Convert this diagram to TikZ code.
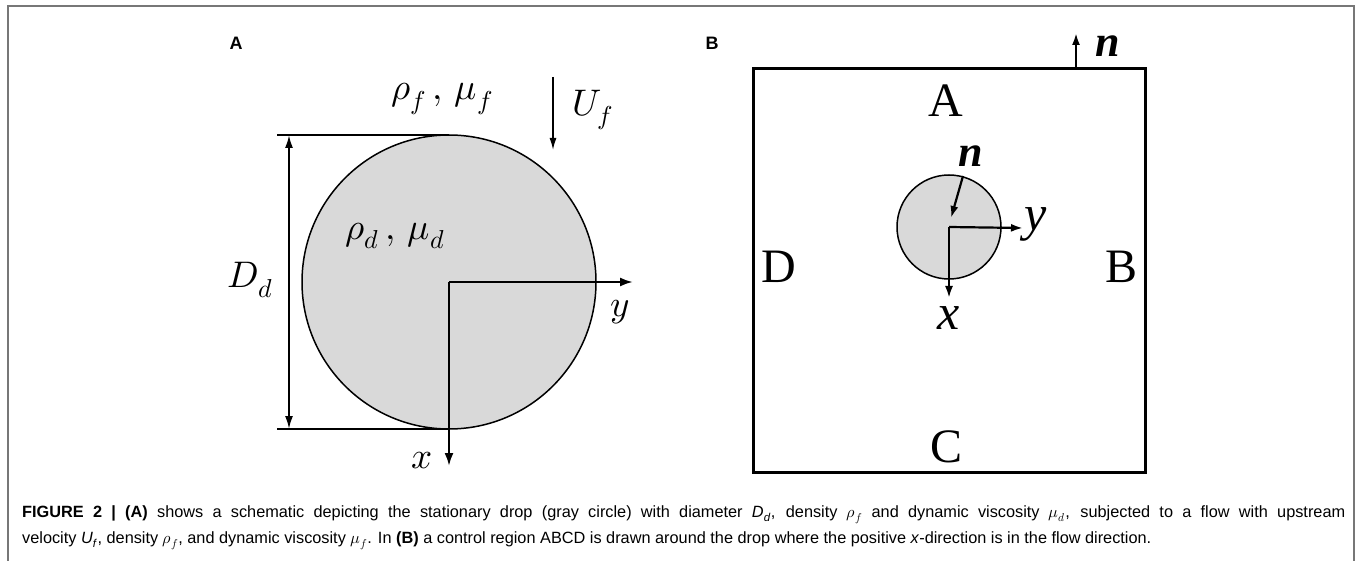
\documentclass[tikz,border=0pt]{standalone}
\usepackage{fontspec}
\usepackage{unicode-math}
\setmainfont{Liberation Sans}
\setmathfont{Latin Modern Math}
\newfontfamily\timesf{Liberation Serif}
\usetikzlibrary{arrows.meta}
\definecolor{framegray}{HTML}{777777}
\definecolor{dropgray}{HTML}{D9D9D9}
\tikzset{
  frameline/.style={draw=framegray, line width=2pt},
  thinline/.style={line width=1.3pt},
  dropshape/.style={circle, draw, fill=dropgray, line width=1.5pt, inner sep=0pt},
  axisarrow/.style={line width=2.2pt, -{Latex[length=13pt,width=9pt]}},
  dimarrow/.style={line width=2pt, {Latex[length=13pt,width=8pt]}-{Latex[length=13pt,width=8pt]}},
  flowarrow/.style={line width=1.5pt, -{Latex[length=12pt,width=7pt]}},
  smallarrow/.style={line width=2.2pt, -{Latex[length=12pt,width=8pt]}},
  boxline/.style={line width=3pt},
  panellabel/.style={font=\fontsize{18}{20}\selectfont\bfseries, inner sep=0pt},
  mathA/.style={font=\fontsize{37}{42}\selectfont, inner sep=0pt},
  letterB/.style={font=\fontsize{48}{52}\selectfont\timesf, inner sep=0pt},
  italB/.style={font=\fontsize{50}{52}\selectfont\timesf\itshape, inner sep=0pt},
  normB/.style={font=\fontsize{44}{48}\selectfont\timesf\bfseries\itshape, inner sep=0pt},
  captionline/.style={font=\fontsize{16.3}{20}\selectfont, inner sep=0pt, anchor=base west},
}
\begin{document}
\begin{tikzpicture}[x=1pt,y=-1pt]
\useasboundingbox (0,0) rectangle (1360,561);
\draw[frameline] (8,561) -- (8,6) -- (1354,6) -- (1354,561);

% ---------- Panel A ----------
\node[panellabel] (labA) at (236,43) {A};
\coordinate (tanTopL) at (277,135);
\coordinate (tanTopR) at (449,135);
\coordinate (tanBotL) at (277,429);
\coordinate (tanBotR) at (449,429);
\draw[thinline] (tanTopL) -- (tanTopR);
\draw[thinline] (tanBotL) -- (tanBotR);
\node[dropshape, minimum size=294pt] (dropA) at (449,282) {};
\coordinate (dimTop) at (289,135);
\coordinate (dimBot) at (289,429);
\draw[dimarrow] (dimTop) -- (dimBot);
\coordinate (yAend) at (633,282);
\coordinate (xAend) at (449,466);
\draw[axisarrow] (dropA.center) -- (yAend);
\draw[axisarrow] (dropA.center) -- (xAend);
\coordinate (flowTop) at (553,77);
\coordinate (flowBot) at (553,150);
\draw[flowarrow] (flowTop) -- (flowBot);
\node[mathA] (rhof) at (442,99) {$\rho_f\,,\,\mu_f$};
\node[mathA] (Uf) at (593,110) {$U_f$};
\node[mathA] (rhod) at (395,236) {$\rho_d\,,\,\mu_d$};
\node[mathA] (Dd) at (250,280) {$D_d$};
\node[mathA] (yA) at (620,312) {$y$};
\node[mathA] (xA) at (422,461) {$x$};

% ---------- Panel B ----------
\node[panellabel] (labB) at (712,43) {B};
\draw[boxline] (753,69) coordinate (boxNW) rectangle (1145,472) coordinate (boxSE);
\coordinate (nOutBase) at (1076,69);
\coordinate (nOutTip) at (1076,33);
\draw[smallarrow] (nOutBase) -- (nOutTip);
\node[normB] (nOut) at (1108,46) {n};
\node[letterB] (sideA) at (946,101) {A};
\node[letterB] (sideB) at (1121,267) {B};
\node[letterB] (sideC) at (946,447) {C};
\node[letterB] (sideD) at (779,267) {D};
\node[dropshape, minimum size=104pt] (dropB) at (949,227) {};
\coordinate (nInStart) at (963,176);
\coordinate (nInTip) at (951,218);
\draw[smallarrow] (nInStart) -- (nInTip);
\node[normB] (nIn) at (971,156) {n};
\coordinate (yBend) at (1023,228);
\coordinate (xBend) at (949,298);
\draw[smallarrow] (dropB.center) -- (yBend);
\draw[smallarrow] (dropB.center) -- (xBend);
\node[italB, anchor=west] (yB) at (1024,224) {y};
\node[italB] (xB) at (949,318) {x};

% ---------- Caption ----------
\node[captionline] (cap1) at (22,517) {\hbox to 1323pt{\textbf{FIGURE 2 | (A)} shows a schematic depicting the stationary drop (gray circle) with diameter \textit{D}\textsubscript{\textit{d}}, density $\rho_f$ and dynamic viscosity $\mu_d$, subjected to a flow with upstream}};
\node[captionline] (cap2) at (22,543) {velocity \textit{U}\textsubscript{\textit{f}}, density $\rho_f$, and dynamic viscosity $\mu_f$. In \textbf{(B)} a control region ABCD is drawn around the drop where the positive \textit{x}-direction is in the flow direction.};
\end{tikzpicture}
\end{document}
